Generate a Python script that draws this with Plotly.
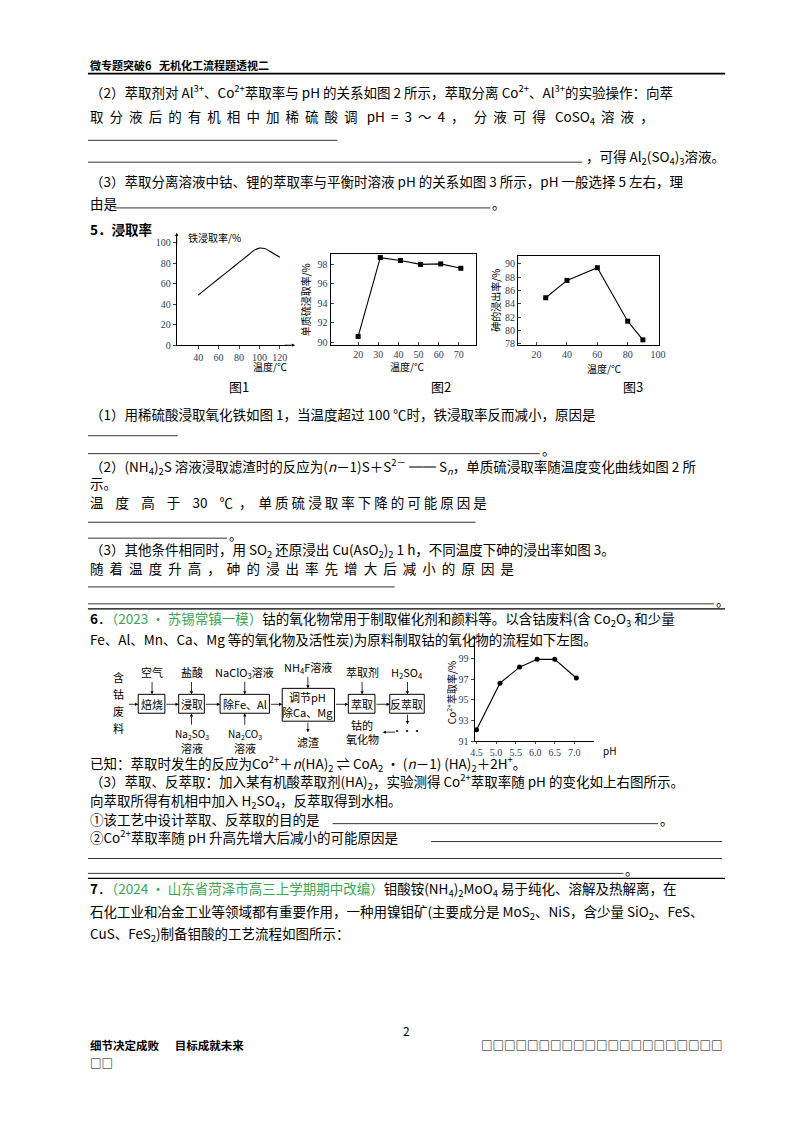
import plotly.graph_objects as go

# ---- data ----
fig1_temp = [40, 50, 60, 70, 80, 90, 95, 100, 105, 110, 120]
fig1_rate = [49, 57, 65, 73, 81, 89, 93, 95, 94.5, 92, 86]
fig2_temp = [20, 31, 41, 51, 61, 71]
fig2_rate = [90.6, 98.7, 98.4, 98.0, 98.05, 97.6]
fig3_temp = [26, 40, 60, 80, 90]
fig3_rate = [84.9, 87.5, 89.4, 81.4, 78.6]
fig4_ph = [4.5, 5.1, 5.6, 6.05, 6.5, 7.05]
fig4_rate = [92.1, 96.6, 98.15, 98.9, 98.9, 97.1]
fig1_ticks = [40, 60, 80, 100, 120]
fig1_yticks = [0, 20, 40, 60, 80, 100]
fig2_ticks = [20, 30, 40, 50, 60, 70]
fig2_yticks = [90, 92, 94, 96, 98]
fig3_ticks = [20, 40, 60, 80, 100]
fig3_yticks = [78, 80, 82, 84, 86, 88, 90]
fig4_ticks = [4.5, 5.0, 5.5, 6.0, 6.5, 7.0]
fig4_yticks = [91, 93, 95, 97, 99]

W, H = 800, 1132
F = "Noto Sans CJK SC, Liberation Serif"
GREEN = "#3aa655"
fig = go.Figure()
ann = []
shapes = []

def T(x, y, s, size=13.5, anchor="left", color="black", bold=False, **kw):
    if bold:
        s = "<b>" + s + "</b>"
    ann.append(dict(x=x, y=y, xref="x", yref="y", text=s, showarrow=False,
                    xanchor=anchor, yanchor="middle",
                    font=dict(family=F, size=size, color=color), **kw))

def L(x0, x1, y, w=0.8):
    shapes.append(dict(type="line", xref="x", yref="y", x0=x0, x1=x1, y0=y, y1=y,
                       line=dict(color="black", width=w)))

def box(x0, y0, x1, y1):
    shapes.append(dict(type="rect", xref="x", yref="y", x0=x0, x1=x1, y0=y0, y1=y1,
                       line=dict(color="black", width=1)))

def arrow(x0, y0, x1, y1):
    ann.append(dict(x=x1, y=y1, ax=x0, ay=y0, xref="x", yref="y", axref="x", ayref="y",
                    text="", showarrow=True, arrowhead=2, arrowsize=0.8, arrowwidth=0.8,
                    arrowcolor="black"))

# header
T(77, 57, "微专题突破6   无机化工流程题透视二", size=11, bold=True)
L(77, 723, 66, 1.8)
T(77, 84, "（2）萃取剂对 Al<sup>3+</sup>、Co<sup>2+</sup>萃取率与 pH 的关系如图 2 所示，萃取分离 Co<sup>2+</sup>、Al<sup>3+</sup>的实验操作：向萃")
T(77, 110, "取  分  液  后  的  有  机  相  中  加  稀  硫  酸  调   pH  =  3  ～  4  ，   分  液  可  得   CoSO<sub>4</sub>  溶  液  ，")
L(77, 330, 133)
L(77, 578, 155)
T(580, 150, "，可得 Al<sub>2</sub>(SO<sub>4</sub>)<sub>3</sub>溶液。")
T(77, 174, "（3）萃取分离溶液中钴、锂的萃取率与平衡时溶液 pH 的关系如图 3 所示，pH 一般选择 5 左右，理")
T(77, 196, "由是")
L(103, 485, 201)
T(485, 196, "。")
T(77, 222, "5．浸取率", bold=True)
T(230, 381, "图1", size=13, anchor="center")
T(435, 381, "图2", size=13, anchor="center")
T(630, 381, "图3", size=13, anchor="center")
T(77, 408, "（1）用稀硫酸浸取氧化铁如图 1，当温度超过 100 ℃时，铁浸取率反而减小，原因是")
L(77, 168, 430)
L(77, 535, 448)
T(535, 443, "。")
T(77, 461, "（2）(NH<sub>4</sub>)<sub>2</sub>S 溶液浸取滤渣时的反应为(<i>n</i>－1)S＋S<sup>2－</sup> ══ S<sub><i>n</i></sub>，单质硫浸取率随温度变化曲线如图 2 所")
T(77, 478, "示。")
T(77, 497, "温    度    高    于    30    ℃  ，  单 质 硫 浸 取 率 下 降 的 可 能 原 因 是")
L(77, 470, 517)
L(77, 218, 533)
T(218, 529, "。")
T(77, 545, "（3）其他条件相同时，用 SO<sub>2</sub> 还原浸出 Cu(AsO<sub>2</sub>)<sub>2</sub> 1 h，不同温度下砷的浸出率如图 3。")
T(77, 563, "随  着  温  度  升  高  ，  砷  的  浸  出  率  先  增  大  后  减  小  的  原  因  是")
L(77, 388, 582)
L(77, 712, 599)
T(712, 595, "。")
L(77, 723, 604, 1.2)
T(77, 614, "<b>6</b>．<span style='color:%s'>（2023 • 苏锡常镇一模）</span>钴的氧化物常用于制取催化剂和颜料等。以含钴废料(含 Co<sub>2</sub>O<sub>3</sub> 和少量" % GREEN)
T(77, 634, "Fe、Al、Mn、Ca、Mg 等的氧化物及活性炭)为原料制取钴的氧化物的流程如下左图。")

# flow chart
FS = 11
for i, ch in enumerate("含钴废料"):
    T(108, 673 + i * 17, ch, size=FS, anchor="center")
boxes = [(128, 155, "焙烧"), (169, 195, "浸取"), (211, 261, "除Fe、Al"), (341, 368, "萃取"), (383, 418, "反萃取")]
for x0, x1, s in boxes:
    box(x0, 690, x1, 709)
    T((x0 + x1) / 2, 700, s, size=FS, anchor="center")
box(274, 684, 327, 717)
T(300, 693, "调节pH", size=FS, anchor="center")
T(300, 708, "除Ca、Mg", size=FS, anchor="center")
for a, b in [(117, 128), (155, 169), (195, 211), (261, 274), (327, 341), (368, 383)]:
    arrow(a, 700, b, 700)
tops = [(142, "空气"), (182, "盐酸"), (236, "NaClO<sub>3</sub>溶液"), (355, "萃取剂"), (401, "H<sub>2</sub>SO<sub>4</sub>")]
for x, s in tops:
    T(x, 668, s, size=FS, anchor="center")
    arrow(x, 676, x, 690)
T(300, 663, "NH<sub>4</sub>F溶液", size=FS, anchor="center")
arrow(300, 671, 300, 684)
for x, s in [(182, "Na<sub>2</sub>SO<sub>3</sub>"), (236, "Na<sub>2</sub>CO<sub>3</sub>")]:
    arrow(x, 722, x, 709)
    T(x, 730, s, size=10, anchor="center")
    T(x, 744, "溶液", size=FS, anchor="center")
arrow(300, 717, 300, 728)
T(300, 738, "滤渣", size=FS, anchor="center")
T(355, 721, "钴的", size=FS, anchor="center")
T(355, 735, "氧化物", size=FS, anchor="center")
arrow(401, 709, 401, 720)
arrow(390, 728, 376, 728)
T(400, 726, "···", size=10, anchor="center")

T(77, 760, "已知：萃取时发生的反应为Co<sup>2+</sup>＋<i>n</i>(HA)<sub>2</sub> ⇌ CoA<sub>2</sub> • (<i>n</i>－1) (HA)<sub>2</sub>＋2H<sup>+</sup>。")
T(77, 778, "（3）萃取、反萃取：加入某有机酸萃取剂(HA)<sub>2</sub>，实验测得 Co<sup>2+</sup>萃取率随 pH 的变化如上右图所示。")
T(77, 797, "向萃取所得有机相中加入 H<sub>2</sub>SO<sub>4</sub>，反萃取得到水相。")
T(77, 815, "①该工艺中设计萃取、反萃取的目的是")
L(325, 655, 820)
T(655, 815, "。")
T(77, 833, "②Co<sup>2+</sup>萃取率随 pH 升高先增大后减小的可能原因是")
L(425, 720, 838)
L(77, 720, 855)
L(77, 620, 870)
T(620, 866, "。")
L(77, 723, 875, 1.2)
T(77, 886, "<b>7</b>．<span style='color:%s'>（2024 • 山东省菏泽市高三上学期期中改编）</span>钼酸铵(NH<sub>4</sub>)<sub>2</sub>MoO<sub>4</sub> 易于纯化、溶解及热解离，在" % GREEN)
T(77, 909, "石化工业和冶金工业等领域都有重要作用，一种用镍钼矿(主要成分是 MoS<sub>2</sub>、NiS，含少量 SiO<sub>2</sub>、FeS、")
T(77, 931, "CuS、FeS<sub>2</sub>)制备钼酸的工艺流程如图所示：")
T(400, 1028, "2", size=12, anchor="center")
T(77, 1043, "细节决定成败      目标成就未来", size=11.5, bold=True)
T(77, 1061, "□□", size=11.5, bold=True)
T(723, 1043, "□□□□□□□□□□□□□□□□□□□□□", size=11.5, bold=True, anchor="right")

# page axis
fig.update_layout(
    xaxis=dict(range=[0, W], visible=False, domain=[0, 1]),
    yaxis=dict(range=[H, 0], visible=False, domain=[0, 1]),
)

def dom(px0, px1, py0, py1):
    return [px0 / W, px1 / W], [1 - py1 / H, 1 - py0 / H]

charts = [
    (2, fig1_temp, fig1_rate, "lines", (167, 283, 228, 339), [19, 131], [0, 108], fig1_ticks, fig1_yticks, False, ""),
    (3, fig2_temp, fig2_rate, "lines+markers", (323, 470, 247, 339), [6.3, 78.3], [89.7, 99.1], fig2_ticks, fig2_yticks, True, ""),
    (4, fig3_temp, fig3_rate, "lines+markers", (513, 656, 249, 339), [7.7, 100.6], [77.8, 91.2], fig3_ticks, fig3_yticks, True, ""),
    (5, fig4_ph, fig4_rate, "lines+markers", (469, 590, 633, 737), [4.45, 7.5], [91.0, 101], fig4_ticks, fig4_yticks, False, ".1f"),
]
for n, xs, ys, mode, px, xr, yr, xt, yt, mirror, fmt in charts:
    xd, yd = dom(*px)
    msym = "square" if n in (3, 4) else "circle"
    fig.add_trace(go.Scatter(x=xs, y=ys, mode=mode, xaxis="x%d" % n, yaxis="y%d" % n,
                             line=dict(color="black", width=1.1, shape="spline" if n == 2 else "linear"),
                             marker=dict(color="black", size=5, symbol=msym), showlegend=False,
                             cliponaxis=False))
    fig.layout["xaxis%d" % n] = dict(domain=xd, range=xr, anchor="y%d" % n, tickvals=xt, tickformat=fmt,
        showline=True, linecolor="black", linewidth=1, mirror=mirror, ticks="inside" if mirror else "outside",
        ticklen=2 if n == 5 else 3, showgrid=False, zeroline=False, tickfont=dict(family="Liberation Serif", size=10))
    fig.layout["yaxis%d" % n] = dict(domain=yd, range=yr, anchor="x%d" % n, tickvals=yt,
        showline=True, linecolor="black", linewidth=1, mirror=mirror, ticks="inside" if mirror else "outside",
        ticklen=3, showgrid=False, zeroline=False, tickfont=dict(family="Liberation Serif", size=10))

# axis labels for charts
T(176, 231, "铁浸取率/%", size=10)
T(262, 360, "温度/℃", size=10, anchor="center")
T(400, 360, "温度/℃", size=10, anchor="center")
T(600, 362, "温度/℃", size=10, anchor="center")
T(298, 293, "单质硫浸取率/%", size=10, anchor="center", textangle=-90)
T(490, 294, "砷的浸出率/%", size=10, anchor="center", textangle=-90)
T(445, 688, "Co<sup>2+</sup>萃取率/%", size=10, anchor="center", textangle=-90)
T(597, 746, "pH", size=10)
# axis arrows
arrow(167, 240, 167, 226)
arrow(275, 339, 287, 339)
arrow(469, 645, 469, 631)

fig.update_layout(width=W, height=H, margin=dict(l=0, r=0, t=0, b=0),
                  paper_bgcolor="white", plot_bgcolor="rgba(0,0,0,0)",
                  annotations=ann, shapes=shapes)
fig.write_html("out.html")
